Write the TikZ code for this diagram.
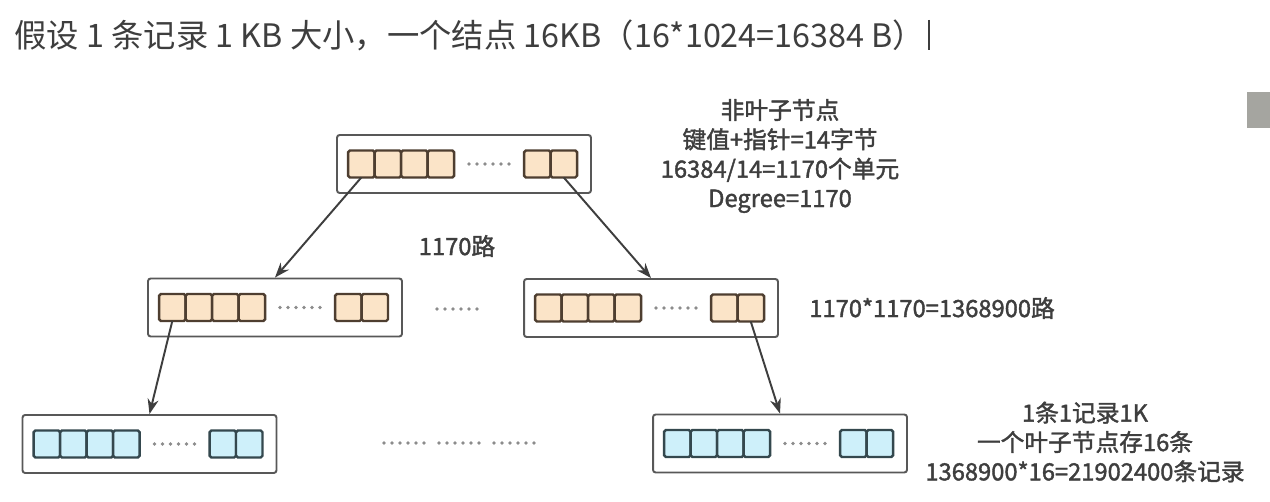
\documentclass[tikz,border=0pt]{standalone}
\usepackage{fontspec}
\setmainfont{Noto Sans CJK SC}
\newfontfamily\notefont[FakeBold=1.6]{Noto Sans CJK SC}
\usepackage{xcolor}
\usepackage{tikz}
\usetikzlibrary{arrows.meta,positioning}
\definecolor{ink}{RGB}{62,62,62}
\definecolor{boxline}{RGB}{88,88,88}
\definecolor{peach}{RGB}{251,228,200}
\definecolor{peachline}{RGB}{78,62,48}
\definecolor{ice}{RGB}{206,240,250}
\definecolor{iceline}{RGB}{52,72,78}
\definecolor{dotgray}{RGB}{140,140,140}
\definecolor{bar}{RGB}{165,165,160}

% six gray dots centred on a coordinate
\newcommand{\dotrow}[1]{%
  \foreach \k in {0,...,5}
    \fill[dotgray] ([xshift=-0.4cm+\k*0.16cm]#1) circle (0.036cm);
}
% one tree node: name, position, cell style
\newcommand{\pagebox}[3]{%
  \node[page] (#1) at (#2) {};
  \node[#3, right=0.24cm of #1.west] (#1-1) {};
  \node[#3, right=0pt of #1-1] (#1-2) {};
  \node[#3, right=0pt of #1-2] (#1-3) {};
  \node[#3, right=0pt of #1-3] (#1-4) {};
  \node[#3, right=1.4cm of #1-4] (#1-5) {};
  \node[#3, right=0pt of #1-5] (#1-6) {};
  \coordinate[right=0.7cm of #1-4] (#1-m);
  \dotrow{#1-m}
}

\begin{document}
\begin{tikzpicture}[
    x=0.02cm, y=-0.02cm,
    page/.style={draw=boxline, rounded corners=1.5pt, minimum width=5.08cm, minimum height=1.16cm,
                 fill=white, line width=1.1pt, inner sep=0pt},
    inner/.style={draw=peachline, fill=peach, rounded corners=1pt, minimum width=0.53cm,
                  minimum height=0.54cm, inner sep=0pt, outer sep=0pt, line width=1.4pt},
    leaf/.style={inner, draw=iceline, fill=ice},
    link/.style={-{Stealth[length=0.3cm,width=0.22cm]}, draw=ink, line width=1.1pt},
    note/.style={align=center, text=ink, font=\notefont\fontsize{13.5pt}{16.7pt}\selectfont, inner sep=0pt},
    title/.style={text=ink, font=\fontsize{18.4pt}{21pt}\selectfont, inner sep=0pt}
]
\useasboundingbox (0,0) rectangle (1270,502);
\fill[white] (0,0) rectangle (1270,502);

\node[title, anchor=west] (title) at (14,35) {假设 1 条记录 1 KB 大小，一个结点 16KB（16*1024=16384 B）};
\draw[ink, line width=0.6pt] (929,20) -- (929,50);
\fill[bar] (1247,92) rectangle (1270,128);

\pagebox{root}{464,164}{inner}
\pagebox{ml}{275,307.5}{inner}
\pagebox{mr}{651,308}{inner}
\pagebox{ll}{149.5,444}{leaf}
\pagebox{lr}{780,443.5}{leaf}

% gaps between siblings
\coordinate (gap) at (457,309);
\dotrow{gap}
\coordinate (gapa) at (404,443);
\coordinate (gapb) at (459,443);
\coordinate (gapc) at (514,443);
\dotrow{gapa}
\dotrow{gapb}
\dotrow{gapc}

\draw[link] (root-1.south) -- (ml.north);
\draw[link] (root-6.south) -- (mr.north);
\draw[link] (ml-1.south) -- (ll.north);
\draw[link] (mr-6.south) -- (lr.north);

\node[note] (info) at (780,156) {非叶子节点\\键值+指针=14字节\\16384/14=1170个单元\\Degree=1170};
\node[note] (fanout1) at (457,246) {1170路};
\node[note, anchor=west] (fanout2) at (809,308) {1170*1170=1368900路};
\node[note] (leafinfo) at (1085,442) {1条1记录1K\\一个叶子节点存16条\\1368900*16=21902400条记录};
\end{tikzpicture}
\end{document}
